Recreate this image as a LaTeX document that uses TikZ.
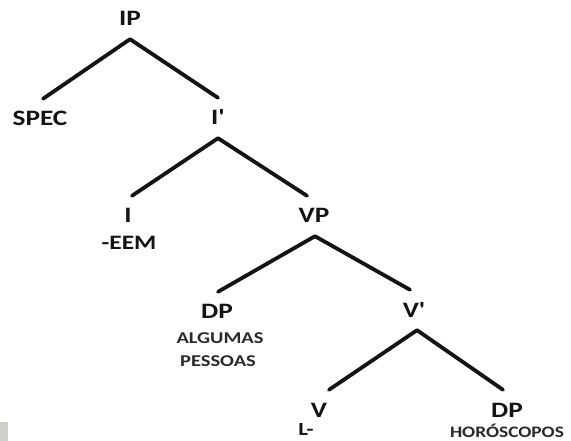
\documentclass[tikz,border=0pt]{standalone}
\usepackage{fontspec}
\setmainfont{Carlito}
\usepackage{graphicx}
\definecolor{ink}{HTML}{141414}
\definecolor{subink}{HTML}{2A2A2A}
\definecolor{corner}{HTML}{CFCFCB}
% wide bold sans for every label
\newcommand{\cat}[1]{\scalebox{1.24}[1]{#1}}
\newcommand{\word}[1]{\scalebox{1.24}[1]{#1}}
\tikzset{
  % fixed box so the anchors sit 20pt above/below the middle of the capitals
  catnode/.style={inner sep=0pt, text height=14pt, text depth=0pt,
    minimum height=40pt, text=ink, font=\fontsize{22}{22}\selectfont\bfseries},
  morphnode/.style={inner sep=0pt, text=ink, font=\fontsize{20.5}{20.5}\selectfont\bfseries},
  wordnode/.style={inner sep=0pt, text=subink, font=\fontsize{16.5}{16.5}\selectfont\bfseries},
  branch/.style={draw=ink, line width=3.8pt, line cap=round}
}
\begin{document}
\begin{tikzpicture}[x=1pt, y=-1pt]
  \useasboundingbox (0,0) rectangle (571,441);
  \fill[white] (0,0) rectangle (571,441);
  \fill[corner] (0,422) rectangle (8,441);

  % category nodes
  \node[catnode] (IP)    at (130,19)  {\cat{IP}};
  \node[catnode] (SPEC)  at (40,119)  {\cat{SPEC}};
  \node[catnode] (Ibar)  at (218,118) {\cat{I\textquotesingle}};
  \node[catnode] (I)     at (128,216) {\cat{I}};
  \node[catnode] (VP)    at (314,216) {\cat{VP}};
  \node[catnode] (DPa)   at (217,312) {\cat{DP}};
  \node[catnode] (Vbar)  at (414,310) {\cat{V\textquotesingle}};
  \node[catnode] (V)     at (319,410) {\cat{V}};
  \node[catnode] (DPb)   at (507,410) {\cat{DP}};

  % lexical material under the heads and phrases
  \node[morphnode] (eem)   at (129,243) {\cat{-EEM}};
  \node[morphnode, font=\fontsize{18.5}{18.5}\selectfont\bfseries] (lroot) at (306,430) {\cat{L-}};
  \node[wordnode] (alg)   at (220,338) {\word{ALGUMAS}};
  \node[wordnode] (pes)   at (218,361) {\word{PESSOAS}};
  \node[wordnode, font=\fontsize{16}{16}\selectfont\bfseries] (horo) at (507,431)
    {\scalebox{1.21}[1]{HORÓSCOPOS}};

  % branches
  \draw[branch] (IP.south) -- ([xshift=3pt]SPEC.north);
  \draw[branch] (IP.south) -- (Ibar.north);
  \draw[branch] (Ibar.south) -- ([xshift=4pt]I.north);
  \draw[branch] (Ibar.south) -- ([xshift=-7pt]VP.north);
  \draw[branch] ([xshift=1pt]VP.south) -- ([xshift=1pt]DPa.north);
  \draw[branch] ([xshift=1pt]VP.south) -- ([xshift=-4pt]Vbar.north);
  \draw[branch] ([xshift=3pt]Vbar.south) -- ([xshift=10pt]V.north);
  \draw[branch] ([xshift=3pt]Vbar.south) -- ([xshift=-4pt]DPb.north);
\end{tikzpicture}
\end{document}
